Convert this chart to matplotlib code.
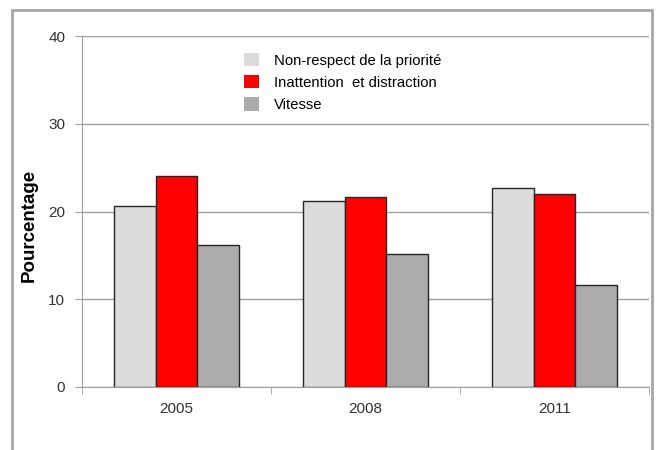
import numpy as np
import matplotlib.pyplot as plt
from matplotlib.patches import Rectangle

years = ["2005", "2008", "2011"]
non_respect = [20.6, 21.2, 22.7]
inattention = [24.1, 21.6, 22.0]
vitesse = [16.2, 15.2, 11.6]

labels = ["Non-respect de la priorité", "Inattention  et distraction", "Vitesse"]
colors = ["#dcdcdc", "#ff0000", "#acacac"]

plt.rcParams['font.family'] = ['Liberation Sans', 'DejaVu Sans']

fig = plt.figure(figsize=(6.57, 4.5), dpi=100)
# plot area in pixels: x 82..649, y 36..387
ax = fig.add_axes([82 / 657, (450 - 387) / 450, (649 - 82) / 657, (387 - 36) / 450])

x = np.arange(len(years))
w = 0.222
series = [non_respect, inattention, vitesse]
for i, (vals, c, lab) in enumerate(zip(series, colors, labels)):
    ax.bar(x + (i - 1) * w, vals, w, color=c, edgecolor="#262626",
           linewidth=1.0, label=lab, zorder=3)

ax.set_xlim(-0.5, 2.5)
ax.set_ylim(0, 40)
ax.set_yticks([0, 10, 20, 30, 40])
ax.yaxis.grid(True, color="#a0a0a0", linewidth=1.0, zorder=0)
ax.set_axisbelow(True)

ax.set_xticks(x)
ax.set_xticklabels(years)
ax.set_xticks([-0.5, 0.5, 1.5, 2.5], minor=True)
ax.tick_params(axis="x", which="major", length=0, pad=11, labelsize=11, labelcolor="#333333")
ax.tick_params(axis="x", which="minor", length=5, color="#a0a0a0", direction="out")
ax.tick_params(axis="y", length=5, color="#a0a0a0", labelsize=11, labelcolor="#333333", pad=7)

for s in ["top", "right"]:
    ax.spines[s].set_visible(False)
for s in ["left", "bottom"]:
    ax.spines[s].set_color("#a0a0a0")

ax.set_ylabel("Pourcentage", fontsize=13.5, fontweight="bold")
ax.yaxis.set_label_coords(-0.078, 0.46)

leg = ax.legend(loc="upper left", bbox_to_anchor=(0.262, 0.99), frameon=False,
                fontsize=10.7, handlelength=1.0, handleheight=1.0, handletextpad=1.0,
                labelspacing=0.5)
for h in leg.legend_handles:
    h.set_edgecolor("none")

# outer chart border
fig.patches.append(Rectangle((12 / 657, -0.1), 640 / 657, 1.1 - 10 / 450,
                             transform=fig.transFigure, fill=False,
                             edgecolor="#a6a6a6", linewidth=2))

fig.savefig("out.png", dpi=100)
